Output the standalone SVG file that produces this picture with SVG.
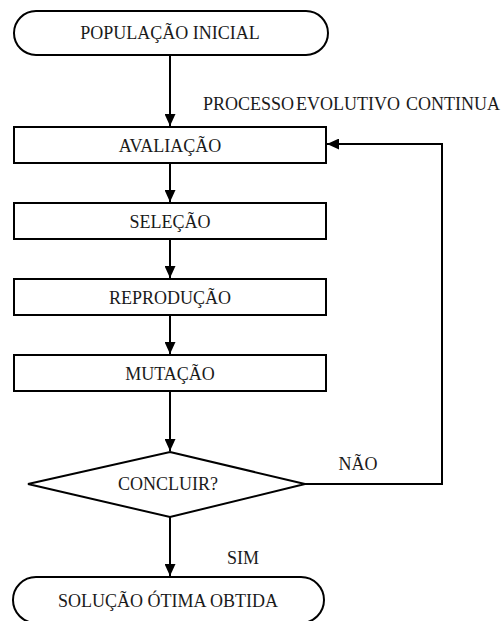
<svg xmlns="http://www.w3.org/2000/svg" width="503" height="621" viewBox="0 0 503 621">
<style>
.s{fill:#fff;stroke:#000;stroke-width:2}
.c{fill:none;stroke:#000;stroke-width:2}
text{font-family:'Liberation Serif','Times New Roman',serif;font-size:18px;fill:#1a1a1a}
.m{text-anchor:middle}
</style>
<defs>
<marker id="a" viewBox="0 0 12 11" refX="12" refY="5.5" markerWidth="12" markerHeight="11" markerUnits="userSpaceOnUse" orient="auto">
<path d="M0,0 L12,5.5 L0,11 z" fill="#000"/>
</marker>
</defs>
<rect width="503" height="621" fill="#fff"/>
<g id="connectors">
<line class="c" x1="170" y1="55" x2="170" y2="126" marker-end="url(#a)"/>
<line class="c" x1="170" y1="163" x2="170" y2="202" marker-end="url(#a)"/>
<line class="c" x1="170" y1="239" x2="170" y2="278" marker-end="url(#a)"/>
<line class="c" x1="170" y1="315" x2="170" y2="354" marker-end="url(#a)"/>
<line class="c" x1="170" y1="391" x2="170" y2="451" marker-end="url(#a)"/>
<line class="c" x1="170" y1="517" x2="170" y2="576" marker-end="url(#a)"/>
<polyline class="c" points="305,484 442,484 442,144 327,144" marker-end="url(#a)"/>
<text y="110"><tspan x="203">PROCESSO</tspan><tspan x="296">EVOLUTIVO</tspan><tspan x="406">CONTINUA</tspan></text>
<text class="m" x="358" y="470">NÃO</text>
<text class="m" x="243" y="564">SIM</text>
</g>
<g id="inicio">
<rect class="s" x="14" y="11" width="314" height="44" rx="22"/>
<text class="m" x="170" y="39">POPULAÇÃO INICIAL</text>
</g>
<g id="avaliacao">
<rect class="s" x="14" y="127" width="312" height="36"/>
<text class="m" x="170" y="152">AVALIAÇÃO</text>
</g>
<g id="selecao">
<rect class="s" x="14" y="203" width="312" height="36"/>
<text class="m" x="170" y="228">SELEÇÃO</text>
</g>
<g id="reproducao">
<rect class="s" x="14" y="279" width="312" height="36"/>
<text class="m" x="170" y="304">REPRODUÇÃO</text>
</g>
<g id="mutacao">
<rect class="s" x="14" y="355" width="312" height="36"/>
<text class="m" x="170" y="380">MUTAÇÃO</text>
</g>
<g id="concluir">
<polygon class="s" points="170,452 305,484 170,517 28,484"/>
<text class="m" x="168" y="490">CONCLUIR?</text>
</g>
<g id="solucao">
<rect class="s" x="13" y="577" width="311" height="46" rx="23"/>
<text class="m" x="168" y="607">SOLUÇÃO ÓTIMA OBTIDA</text>
</g>
</svg>
